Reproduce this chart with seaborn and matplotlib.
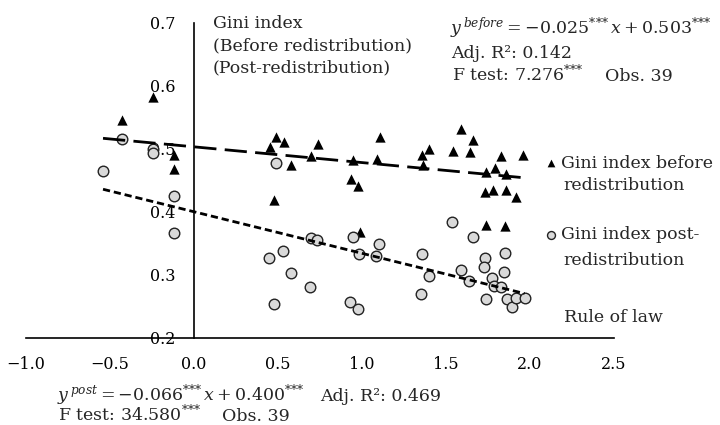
import numpy as np
import pandas as pd
import seaborn as sns
import matplotlib.pyplot as plt

# Rule of law (x) against the Gini index before redistribution
law_before = [-0.43, -0.24, -0.12, -0.12,
              0.492, 0.452, 0.536, 0.74, 0.70, 0.58, 0.478, 0.945, 0.933, 0.98, 0.988,
              1.107, 1.09, 1.357, 1.399, 1.365, 1.54, 1.59, 1.66, 1.645, 1.83,
              1.79, 1.74, 1.855, 1.73, 1.78, 1.86, 1.92, 1.74, 1.85, 1.96]
gini_before = [0.545, 0.582, 0.49, 0.467,
               0.519, 0.503, 0.511, 0.507, 0.489, 0.474, 0.419, 0.482, 0.452, 0.441, 0.368,
               0.518, 0.484, 0.49, 0.50, 0.474, 0.496, 0.531, 0.514, 0.495, 0.488,
               0.47, 0.463, 0.46, 0.432, 0.434, 0.434, 0.424, 0.379, 0.377, 0.49]

# Rule of law (x) against the Gini index post-redistribution
law_post = [-0.54, -0.43, -0.24, -0.24, -0.12, -0.12,
            0.488, 0.695, 0.734, 0.945, 0.532, 0.448, 0.577, 0.69, 0.478, 0.929, 0.978, 0.984,
            1.103, 1.087, 1.536, 1.659, 1.36, 1.397, 1.353, 1.59, 1.64, 1.734, 1.726,
            1.776, 1.786, 1.83, 1.74, 1.853, 1.847, 1.861, 1.895, 1.92, 1.968]
gini_post = [0.465, 0.516, 0.50, 0.493, 0.425, 0.366,
             0.478, 0.359, 0.355, 0.36, 0.337, 0.326, 0.302, 0.28, 0.253, 0.257, 0.245, 0.333,
             0.349, 0.329, 0.383, 0.36, 0.333, 0.298, 0.27, 0.307, 0.29, 0.327, 0.312,
             0.294, 0.282, 0.281, 0.261, 0.334, 0.305, 0.261, 0.248, 0.263, 0.263]

# reported OLS fits (slope, intercept)
fit_before = (-0.025, 0.503)
fit_post = (-0.066, 0.400)

x_ticks = [-1.0, -0.5, 0.0, 0.5, 1.0, 1.5, 2.0, 2.5]
y_ticks = [0.2, 0.3, 0.4, 0.5, 0.6, 0.7]

df_b = pd.DataFrame({'law': law_before, 'gini': gini_before})
df_p = pd.DataFrame({'law': law_post, 'gini': gini_post})

# fitted lines over the observed range of x
x_rng = np.array([min(law_before + law_post), max(law_before + law_post)])
df_fb = pd.DataFrame({'law': x_rng, 'gini': fit_before[0] * x_rng + fit_before[1]})
df_fp = pd.DataFrame({'law': x_rng, 'gini': fit_post[0] * x_rng + fit_post[1]})

sns.set_style("white")
plt.rcParams['font.family'] = ['DejaVu Serif']
plt.rcParams['mathtext.fontset'] = 'dejavuserif'

fig = plt.figure(figsize=(7.2, 4.25), dpi=100)
ax = fig.add_axes([0.0357, 0.2054, 0.817, 0.7412])

sns.scatterplot(data=df_b, x='law', y='gini', marker='^', color='black',
                edgecolor='black', linewidth=0, s=55, ax=ax, zorder=2,
                label='Gini index before')
sns.scatterplot(data=df_p, x='law', y='gini', marker='o', color='#d9d9d9',
                edgecolor='#222222', linewidth=1.0, s=58, ax=ax, zorder=3,
                label='Gini index post-')
sns.lineplot(data=df_fb, x='law', y='gini', color='black', linewidth=2.0,
             dashes=False, ax=ax, zorder=4)
sns.lineplot(data=df_fp, x='law', y='gini', color='black', linewidth=2.0,
             dashes=False, ax=ax, zorder=4)
ax.lines[0].set_dashes((8, 3))
ax.lines[1].set_dashes((2.6, 1.4))

ax.set_xlim(-1.0, 2.5)
ax.set_ylim(0.2, 0.7)
ax.set_xticks(x_ticks)
ax.set_yticks(y_ticks)
ax.set_xticklabels([f"{v:.1f}".replace('-', '\u2212') for v in x_ticks])
ax.set_yticklabels([f"{v:.1f}" for v in y_ticks])
ax.set_xlabel('')
ax.set_ylabel('')

ax.spines['left'].set_position(('data', 0))
ax.spines['top'].set_visible(False)
ax.spines['right'].set_visible(False)
for s in ['left', 'bottom']:
    ax.spines[s].set_linewidth(1.2)
    ax.spines[s].set_color('black')
ax.tick_params(axis='both', direction='in', length=6, width=1.2, colors='black',
               labelsize=11.5)
ax.tick_params(axis='x', pad=13)
ax.tick_params(axis='y', pad=13.5)
ax.patch.set_alpha(0)

leg = ax.legend(loc='upper left', bbox_to_anchor=(0.755, 0.636),
                bbox_transform=fig.transFigure, frameon=False, fontsize=12.5,
                handletextpad=0.1, handlelength=0.9, markerscale=0.75,
                labelspacing=3.15, borderpad=0, borderaxespad=0)


def px(x, y):
    return x / 720, 1 - y / 425


fs = 12.5
stars = '{*}{*}{*}'
fig.text(*px(213, 28), 'Gini index', fontsize=fs, va='baseline')
fig.text(*px(213, 50), '(Before redistribution)', fontsize=fs, va='baseline')
fig.text(*px(213, 72), '(Post-redistribution)', fontsize=fs, va='baseline')

fig.text(*px(450, 34), rf'$y^{{\,before}} = -0.025^{{{stars}}}\,x + 0.503^{{{stars}}}$',
         fontsize=fs, va='baseline')
fig.text(*px(451, 58), 'Adj. R\u00b2: 0.142', fontsize=fs, va='baseline')
fig.text(*px(452, 81), rf'F test: 7.276$^{{{stars}}}$', fontsize=fs, va='baseline')
fig.text(*px(605, 81), 'Obs. 39', fontsize=fs, va='baseline')

fig.text(*px(563, 190), 'redistribution', fontsize=fs, va='baseline')
fig.text(*px(563, 265), 'redistribution', fontsize=fs, va='baseline')
fig.text(*px(564, 322), 'Rule of law', fontsize=fs, va='baseline')

fig.text(*px(57, 401), rf'$y^{{\,post}} = -0.066^{{{stars}}}\,x + 0.400^{{{stars}}}$',
         fontsize=fs, va='baseline')
fig.text(*px(320, 401), 'Adj. R\u00b2: 0.469', fontsize=fs, va='baseline')
fig.text(*px(58, 421), rf'F test: 34.580$^{{{stars}}}$', fontsize=fs, va='baseline')
fig.text(*px(222, 421), 'Obs. 39', fontsize=fs, va='baseline')

fig.savefig('out.png', dpi=100)
